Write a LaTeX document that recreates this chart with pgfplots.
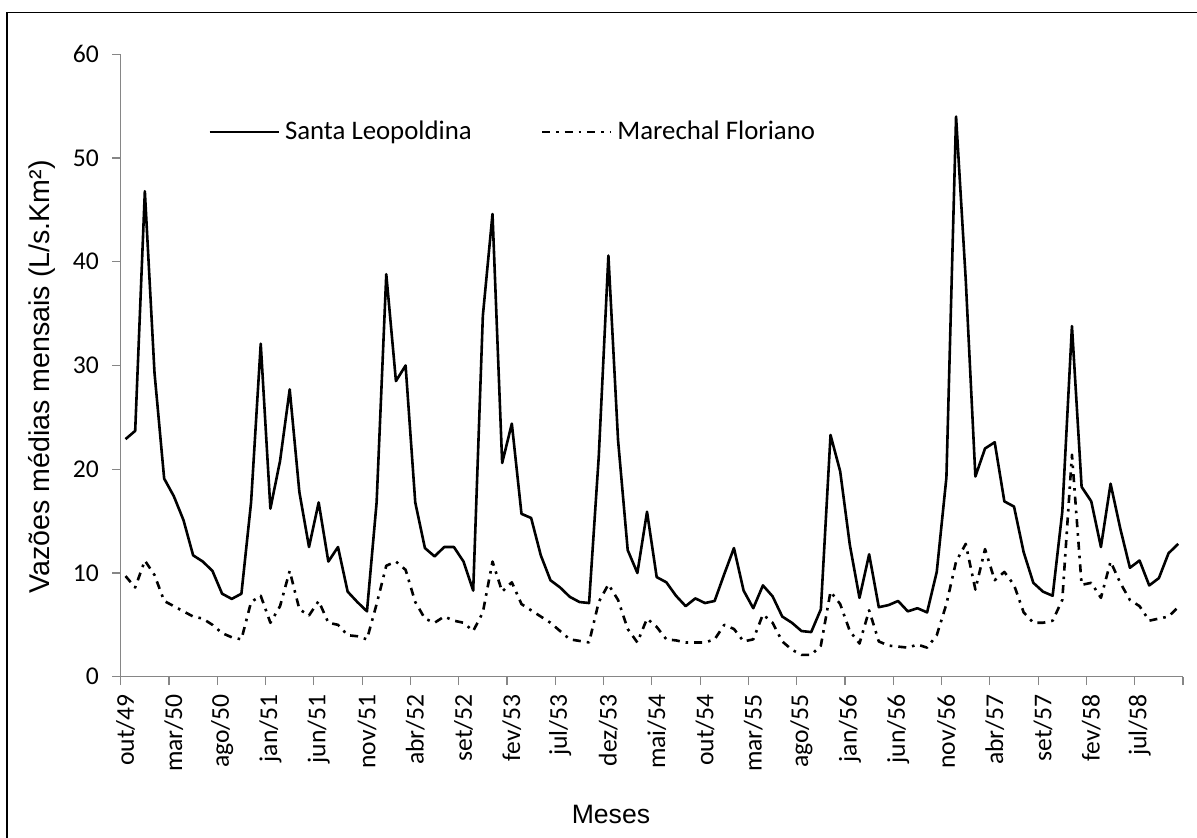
\documentclass[border=0pt]{standalone}
\usepackage{fontspec}
\setmainfont{Carlito}
\newfontfamily\arialfont{Liberation Sans}
\usepackage{pgfplots}
\usepackage{pgfplotstable}
\pgfplotsset{compat=1.18}
\definecolor{axisgray}{RGB}{134,134,134}

% i = month index from out/49 (0) to nov/58 (109)
\pgfplotstableread{
i   sl     mf
0   22.9   9.7
1   23.7   8.6
2   46.8   11.2
3   29.3   9.8
4   19.1   7.3
5   17.4   6.8
6   15.1   6.3
7   11.7   5.8
8   11.1   5.6
9   10.2   5.0
10  8.0    4.2
11  7.5    3.8
12  8.0    3.6
13  16.8   7.2
14  32.1   7.8
15  16.2   5.2
16  20.8   6.8
17  27.7   10.2
18  17.8   6.5
19  12.5   5.9
20  16.8   7.3
21  11.1   5.2
22  12.5   5.0
23  8.2    4.0
24  7.2    3.9
25  6.3    3.6
26  16.8   7.0
27  38.8   10.7
28  28.5   11.1
29  30.0   10.3
30  16.8   7.2
31  12.4   5.6
32  11.6   5.2
33  12.5   5.8
34  12.5   5.4
35  11.1   5.2
36  8.3    4.4
37  34.8   6.2
38  44.6   11.1
39  20.6   8.2
40  24.4   9.1
41  15.7   7.0
42  15.3   6.4
43  11.7   5.8
44  9.3    5.2
45  8.6    4.4
46  7.7    3.6
47  7.2    3.45
48  7.1    3.3
49  21.2   7.2
50  40.6   8.9
51  22.8   7.4
52  12.2   4.6
53  10.0   3.3
54  15.9   5.6
55  9.6    4.8
56  9.1    3.6
57  7.8    3.5
58  6.8    3.3
59  7.55   3.3
60  7.1    3.3
61  7.3    3.6
62  9.9    5.0
63  12.4   4.6
64  8.3    3.4
65  6.6    3.6
66  8.8    6.0
67  7.75   5.2
68  5.8    3.4
69  5.2    2.6
70  4.4    2.1
71  4.3    2.1
72  6.5    3.0
73  23.3   8.2
74  19.8   7.0
75  12.7   4.4
76  7.6    3.2
77  11.8   6.4
78  6.7    3.4
79  6.9    3.0
80  7.3    2.9
81  6.3    2.8
82  6.6    3.1
83  6.2    2.8
84  10.1   4.0
85  19.2   7.0
86  54.0   11.1
87  38.3   12.8
88  19.3   8.4
89  22.0   12.3
90  22.6   9.3
91  16.9   10.1
92  16.4   8.85
93  12.0   6.2
94  9.05   5.2
95  8.2    5.2
96  7.8    5.4
97  15.9   7.4
98  33.8   21.4
99  18.3   8.85
100 16.9   9.05
101 12.5   7.6
102 18.6   11.1
103 14.3   9.05
104 10.5   7.4
105 11.2   6.8
106 8.8    5.4
107 9.5    5.6
108 11.9   5.8
109 12.8   6.7
}\vazoes

\begin{document}
\begin{tikzpicture}
\useasboundingbox (0,0) rectangle (598.5pt,419pt);
\draw[line width=0.8pt] (3.5pt,0) -- (3.5pt,412.65pt) -- (598.5pt,412.65pt);
\begin{axis}[
    at={(60.35pt,80.65pt)}, anchor=south west,
    scale only axis,
    width=531.15pt, height=311.2pt,
    xmin=-0.5, xmax=109.5,
    ymin=0, ymax=60,
    axis x line*=bottom, axis y line*=left,
    axis line style={draw=axisgray, line width=0.6pt},
    tick style={draw=axisgray, line width=0.6pt},
    tick align=outside,
    major tick length=4.2pt,
    ytick={0,10,...,60},
    xtick={-0.5,4.5,...,109.5},
    xticklabels={},
    extra x ticks={0,5,...,105},
    extra x tick labels={out/49,mar/50,ago/50,jan/51,jun/51,nov/51,abr/52,set/52,fev/53,jul/53,dez/53,mai/54,out/54,mar/55,ago/55,jan/56,jun/56,nov/56,abr/57,set/57,fev/58,jul/58},
    extra x tick style={tick style={draw=none}},
    /pgf/number format/assume math mode=true,
    ticklabel style={font=\fontsize{12.8}{14}\selectfont},
    xticklabel style={yshift=-4.5pt, rotate=90, anchor=east, inner sep=0pt},
    yticklabel style={anchor=east, inner sep=0pt, xshift=-6.5pt},
    xlabel={Meses},
    ylabel={Vazões médias mensais (L/s.Km²)},
    xlabel style={font=\arialfont\fontsize{13.3}{15}\selectfont, at={(axis description cs:0.4615,-0.2206)}, anchor=center},
    ylabel style={font=\arialfont\fontsize{14.3}{16}\selectfont, at={(axis description cs:-0.0745,0.4815)}, anchor=center, rotate=0},
    legend columns=2,
    legend style={draw=none, fill=none, at={(axis description cs:0.0822,0.875)}, anchor=west,
        inner sep=0pt, font=\fontsize{13.4}{15}\selectfont,
        nodes={inner xsep=2.5pt, inner ysep=0pt},
        /tikz/every even column/.append style={column sep=32pt}},
    legend image code/.code={\draw[#1] (0pt,0pt) -- (34.5pt,0pt);},
    legend cell align=left,
]
\addplot[black, line width=1.3pt, line join=round] table[x=i, y=sl] {\vazoes};
\addplot[black, line width=1.3pt, line join=round, dash pattern=on 4pt off 3pt on 1.3pt off 3pt] table[x=i, y=mf] {\vazoes};
\legend{Santa Leopoldina, Marechal Floriano}
\end{axis}
\end{tikzpicture}
\end{document}
